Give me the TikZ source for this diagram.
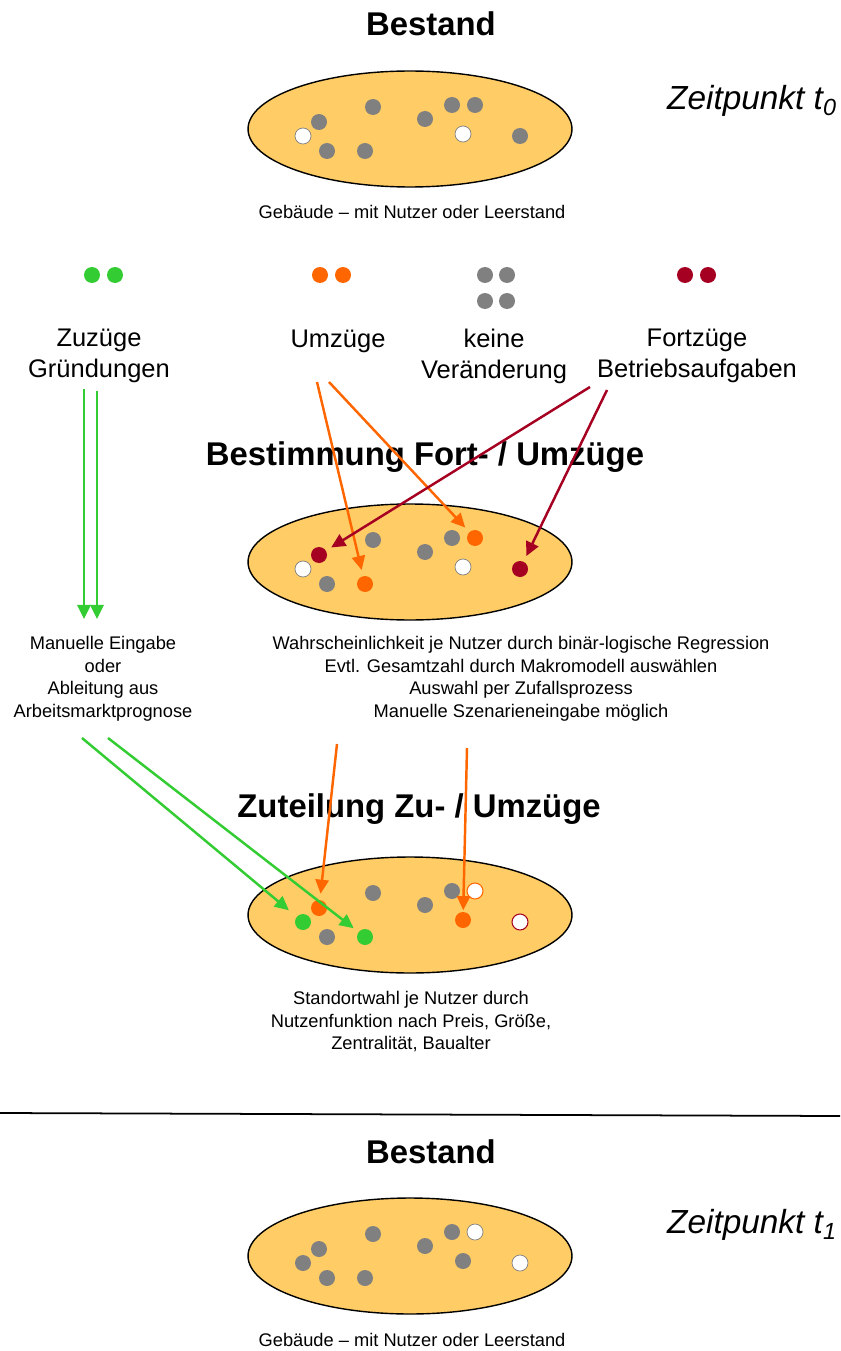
\documentclass[tikz,border=0pt]{standalone}
\usepackage{fontspec}
\setmainfont{Liberation Sans}
\usepackage{tikz}
\usetikzlibrary{arrows.meta,calc,positioning}
\usetikzlibrary{shapes.geometric}
\definecolor{mengeFill}{HTML}{FFCC66}
\definecolor{pGrau}{HTML}{808080}
\definecolor{pGruen}{HTML}{33CC33}
\definecolor{pOrange}{HTML}{FF6600}
\definecolor{pRot}{HTML}{A50021}
\tikzstyle{menge}=[ellipse, draw, line width=0.8pt, fill=mengeFill, minimum width=6.48cm, minimum height=2.32cm, inner sep=0pt]
\tikzstyle{pkt}=[circle, inner sep=0pt, minimum size=0.32cm]
\tikzstyle{pktGrau}=[pkt, fill=pGrau]
\tikzstyle{pktLeer}=[pkt, fill=white, draw=pGrau, line width=0.4pt]
\tikzstyle{pktZu}=[pkt, fill=pGruen]
\tikzstyle{pktUm}=[pkt, fill=pOrange]
\tikzstyle{pktFort}=[pkt, fill=pRot]
\tikzstyle{pktLeerUm}=[pkt, fill=white, draw=pOrange, line width=0.6pt]
\tikzstyle{pktLeerFort}=[pkt, fill=white, draw=pRot, line width=0.6pt]
\tikzstyle{titel}=[font=\fontsize{18.7}{22}\selectfont\bfseries]
\tikzstyle{gross}=[font=\fontsize{14.5}{17.6}\selectfont, align=center]
\tikzstyle{klein}=[font=\fontsize{10.4}{12.8}\selectfont, align=center]
\tikzstyle{zeit}=[font=\fontsize{19}{22}\selectfont\itshape]
\tikzstyle{pfeil}=[line width=1.4pt, -{Triangle[length=8pt,width=7.5pt]}, shorten >=0.12cm]
% Lage der Nutzer in jeder Menge (px, relativ zur Mitte)
\def\dxListe{{-91,-107,-83,-37,-45,15,42,65,53,110}}
\def\dyListe{{-7,7,22,-22,22,-10,-24,-24,5,7}}
\newcommand{\bestandsMenge}[3]{
	\node[menge] (#1) at #2 {};
	\foreach \s [count=\i] in {#3} {
		\pgfmathsetmacro{\dx}{\dxListe[\i-1]}
		\pgfmathsetmacro{\dy}{\dyListe[\i-1]}
		\node[\s] (#1-\i) at ($(#1)+(\dx,\dy)$) {};
	}
}
\begin{document}
\begin{tikzpicture}[x=0.02cm, y=-0.02cm]
	\useasboundingbox (0,0) rectangle (840,1351);
	% Zeitpunkt t0
	\node[titel] (titel0) at (431,24) {Bestand};
	\bestandsMenge{m0}{(410,129)}{pktGrau,pktLeer,pktGrau,pktGrau,pktGrau,pktGrau,pktGrau,pktGrau,pktLeer,pktGrau}
	\node[zeit] (zeit0) at (752,101) {Zeitpunkt t\textsubscript{0}};
	\node[klein] (geb0) at (412,212) {Gebäude – mit Nutzer oder Leerstand};
	% Legende
	\node[pktZu] (lZu1) at (92,275) {};
	\node[pktZu] (lZu2) at (115,275) {};
	\node[pktUm] (lUm1) at (320,275) {};
	\node[pktUm] (lUm2) at (343,275) {};
	\foreach \x/\y [count=\i] in {485/275,507/275,485/301,507/301}
		\node[pktGrau] (lGrau\i) at (\x,\y) {};
	\node[pktFort] (lFort1) at (685,275) {};
	\node[pktFort] (lFort2) at (708,275) {};
	\node[gross] (zuzug) at (99,356) {Zuzüge\\Gründungen};
	\node[gross] (umzug) at (338,341) {Umzüge};
	\node[gross] (keine) at (494,356) {keine\\Veränderung};
	\node[gross] (fortzug) at (697,356) {Fortzüge\\Betriebsaufgaben};
	% Bestimmung
	\node[titel] (titel1) at (425,457) {Bestimmung Fort- / Umzüge};
	\bestandsMenge{m1}{(410,562)}{pktFort,pktLeer,pktGrau,pktGrau,pktUm,pktGrau,pktGrau,pktUm,pktLeer,pktFort}
	\node[klein] (eingabe) at (103,679) {Manuelle Eingabe\\oder\\Ableitung aus\\Arbeitsmarktprognose};
	\node[klein] (wahrsch) at (521,679) {Wahrscheinlichkeit je Nutzer durch binär-logische Regression\\Evtl. Gesamtzahl durch Makromodell auswählen\\Auswahl per Zufallsprozess\\Manuelle Szenarieneingabe möglich};
	% Zuteilung
	\node[titel] (titel2) at (419,809) {Zuteilung Zu- / Umzüge};
	\bestandsMenge{m2}{(410,915)}{pktUm,pktZu,pktGrau,pktGrau,pktZu,pktGrau,pktGrau,pktLeerUm,pktUm,pktLeerFort}
	\node[klein] (standort) at (411,1022) {Standortwahl je Nutzer durch\\Nutzenfunktion nach Preis, Größe,\\Zentralität, Baualter};
	\coordinate (trennL) at (0,1113);
	\coordinate (trennR) at (840,1116);
	\draw[line width=1pt] (trennL) -- (trennR);
	% Zeitpunkt t1
	\node[titel] (titel3) at (431,1152) {Bestand};
	\bestandsMenge{m3}{(410,1256)}{pktGrau,pktGrau,pktGrau,pktGrau,pktGrau,pktGrau,pktGrau,pktLeer,pktGrau,pktLeer}
	\node[zeit] (zeit1) at (752,1225) {Zeitpunkt t\textsubscript{1}};
	\node[klein] (geb1) at (412,1340) {Gebäude – mit Nutzer oder Leerstand};
	% Pfeile
	\coordinate (zuA) at (84,389);
	\coordinate (zuA2) at (84,619);
	\coordinate (zuB) at (97,391);
	\coordinate (zuB2) at (97,619);
	\coordinate (zuC) at (82,738);
	\coordinate (zuD) at (108,738);
	\coordinate (umA) at (317,382);
	\coordinate (umB) at (329,382);
	\coordinate (umC) at (337,744);
	\coordinate (umD) at (467,748);
	\coordinate (fortA) at (590,387);
	\coordinate (fortB) at (607,390);
	\draw[pfeil, pGruen, shorten >=0pt] (zuA) -- (zuA2);
	\draw[pfeil, pGruen, shorten >=0pt] (zuB) -- (zuB2);
	\draw[pfeil, pGruen, shorten >=0.2cm] (zuC) -- (m2-2);
	\draw[pfeil, pGruen] (zuD) -- (m2-5);
	\draw[pfeil, pOrange] (umA) -- (m1-5);
	\draw[pfeil, pOrange] (umB) -- (m1-8);
	\draw[pfeil, pOrange] (umC) -- (m2-1);
	\draw[pfeil, pOrange, shorten >=0.03cm] (umD) -- (m2-9);
	\draw[pfeil, pRot] (fortA) -- (m1-1);
	\draw[pfeil, pRot] (fortB) -- (m1-10);
\end{tikzpicture}
\end{document}
